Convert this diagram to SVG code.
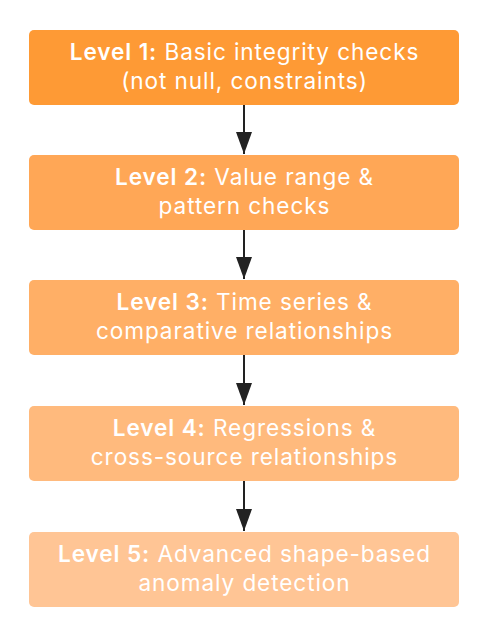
<svg xmlns="http://www.w3.org/2000/svg" width="493" height="630" viewBox="0 0 493 630">
<style>
.box{stroke:none}
.t{font-family:Inter,"Noto Sans",sans-serif;font-size:22.6px;letter-spacing:0.9px;fill:#fff;text-anchor:middle}
.b{font-weight:600}
.c{stroke:#222;stroke-width:2;fill:none}
</style>
<defs>
<marker id="ah" markerWidth="22" markerHeight="16" refX="22" refY="8" orient="auto" markerUnits="userSpaceOnUse">
<path d="M0,0 L22,8 L0,16 Z" fill="#222"/>
</marker>
</defs>
<rect width="493" height="630" fill="#fff"/>
<g id="connectors">
<line class="c" x1="244" y1="105" x2="244" y2="154" marker-end="url(#ah)"/>
<line class="c" x1="244" y1="230" x2="244" y2="279" marker-end="url(#ah)"/>
<line class="c" x1="244" y1="355" x2="244" y2="405" marker-end="url(#ah)"/>
<line class="c" x1="244" y1="481" x2="244" y2="531" marker-end="url(#ah)"/>
</g>
<g id="level1">
<rect class="box" x="29" y="30" width="430" height="75" rx="5" fill="#FE9A35"/>
<text class="t" x="244.5" y="60"><tspan class="b">Level 1:</tspan> Basic integrity checks</text>
<text class="t" x="244.5" y="89">(not null, constraints)</text>
</g>
<g id="level2">
<rect class="box" x="29" y="155" width="430" height="75" rx="5" fill="#FFA756"/>
<text class="t" x="244.5" y="185"><tspan class="b">Level 2:</tspan> Value range &amp;</text>
<text class="t" x="244.5" y="214">pattern checks</text>
</g>
<g id="level3">
<rect class="box" x="29" y="280" width="430" height="75" rx="5" fill="#FFAF66"/>
<text class="t" x="244.5" y="310"><tspan class="b">Level 3:</tspan> Time series &amp;</text>
<text class="t" x="244.5" y="339">comparative relationships</text>
</g>
<g id="level4">
<rect class="box" x="29" y="406" width="430" height="75" rx="5" fill="#FFBA7D"/>
<text class="t" x="244.5" y="436"><tspan class="b">Level 4:</tspan> Regressions &amp;</text>
<text class="t" x="244.5" y="465">cross-source relationships</text>
</g>
<g id="level5">
<rect class="box" x="29" y="532" width="430" height="75" rx="5" fill="#FFC595"/>
<text class="t" x="244.5" y="562"><tspan class="b">Level 5:</tspan> Advanced shape-based</text>
<text class="t" x="244.5" y="591">anomaly detection</text>
</g>
</svg>
